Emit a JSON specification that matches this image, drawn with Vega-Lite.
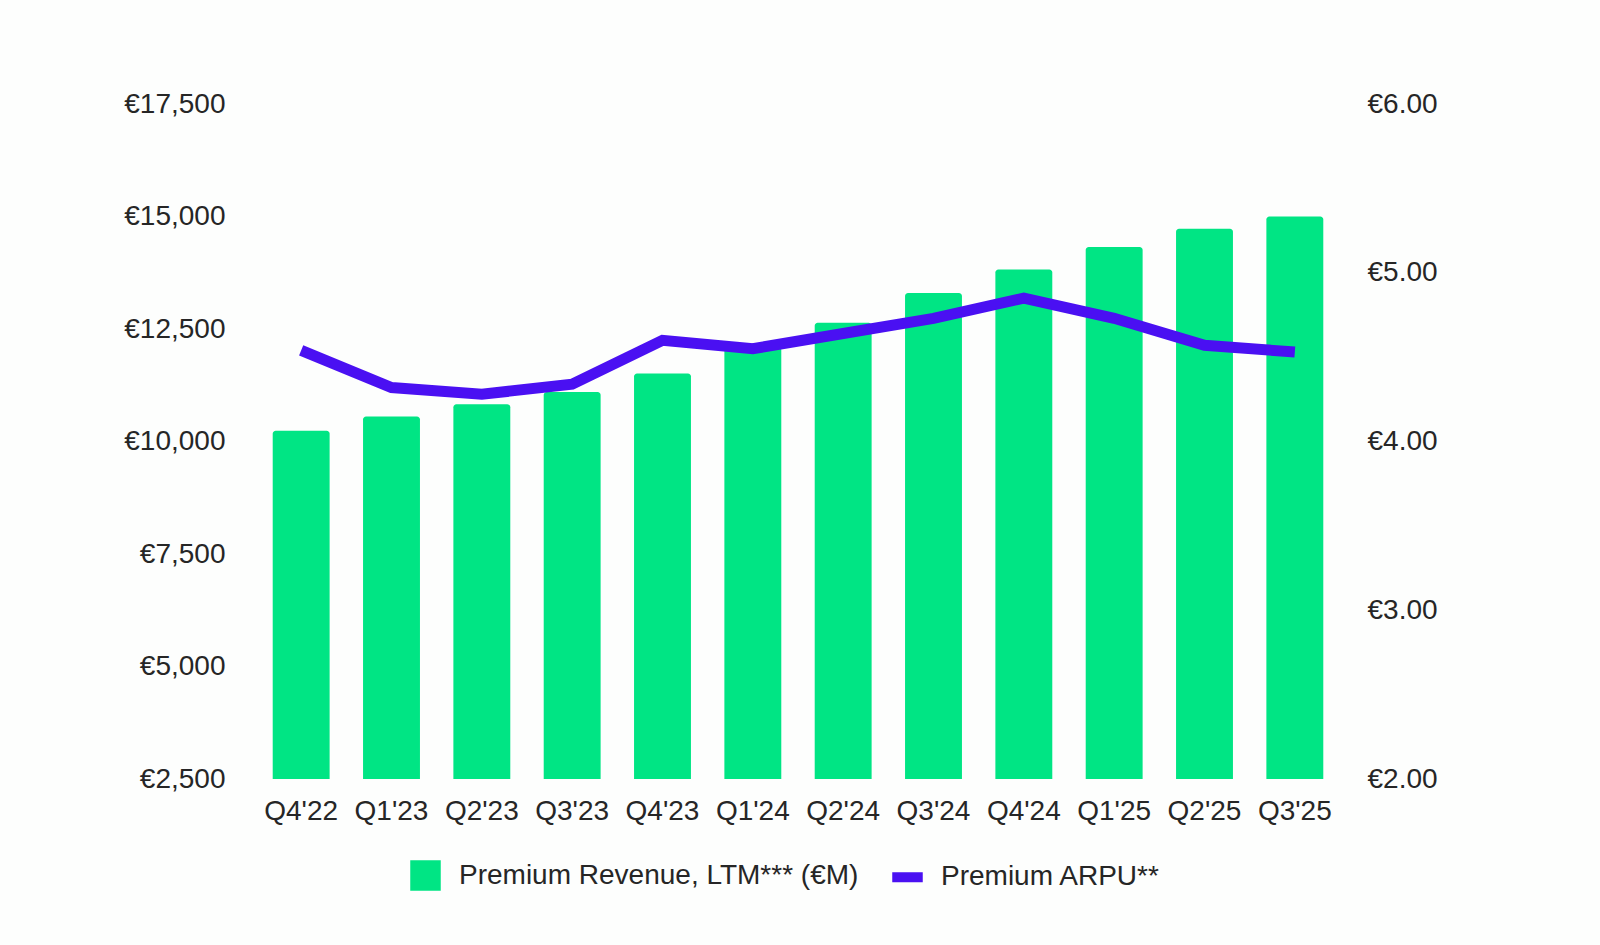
{
  "$schema": "https://vega.github.io/schema/vega-lite/v6.json",
  "width": 1084,
  "height": 675,
  "autosize": "none",
  "padding": {"left": 256, "top": 104, "right": 260, "bottom": 166},
  "background": "#fdfefd",
  "config": {
    "font": "Liberation Sans",
    "view": {"stroke": null},
    "axis": {
      "grid": false,
      "domain": false,
      "ticks": false,
      "tickSize": 0,
      "title": null,
      "labelFont": "Liberation Sans",
      "labelFontSize": 28,
      "labelColor": "#262626"
    },
    "legend": {
      "labelFont": "Liberation Sans",
      "labelFontSize": 28,
      "labelColor": "#262626",
      "labelLimit": 0
    }
  },
  "data": {
    "values": [
      {"quarter": "Q4'22", "revenue": 10240, "arpu": 4.54},
      {"quarter": "Q1'23", "revenue": 10555, "arpu": 4.32},
      {"quarter": "Q2'23", "revenue": 10830, "arpu": 4.28},
      {"quarter": "Q3'23", "revenue": 11100, "arpu": 4.34},
      {"quarter": "Q4'23", "revenue": 11510, "arpu": 4.60},
      {"quarter": "Q1'24", "revenue": 12100, "arpu": 4.55},
      {"quarter": "Q2'24", "revenue": 12640, "arpu": 4.64},
      {"quarter": "Q3'24", "revenue": 13300, "arpu": 4.73},
      {"quarter": "Q4'24", "revenue": 13820, "arpu": 4.85},
      {"quarter": "Q1'25", "revenue": 14320, "arpu": 4.73},
      {"quarter": "Q2'25", "revenue": 14730, "arpu": 4.57},
      {"quarter": "Q3'25", "revenue": 15000, "arpu": 4.53}
    ]
  },
  "encoding": {
    "x": {
      "field": "quarter",
      "type": "ordinal",
      "sort": null,
      "scale": {"paddingInner": 0.37, "paddingOuter": 0.185},
      "axis": {"labelAngle": 0, "labelPadding": 18}
    }
  },
  "layer": [
    {
      "mark": {"type": "bar", "cornerRadiusTopLeft": 3, "cornerRadiusTopRight": 3},
      "encoding": {
        "y": {
          "field": "revenue",
          "type": "quantitative",
          "scale": {"domain": [2500, 17500], "zero": false, "nice": false},
          "axis": {
            "orient": "left",
            "values": [2500, 5000, 7500, 10000, 12500, 15000, 17500],
            "labelExpr": "'€' + format(datum.value, ',')",
            "labelPadding": 31
          }
        },
        "y2": {"datum": 2500},
        "color": {
          "datum": "Premium Revenue, LTM*** (€M)",
          "scale": {
            "domain": ["Premium Revenue, LTM*** (€M)", "Premium ARPU**"],
            "range": ["#00e584", "#4a10f2"]
          },
          "legend": {
            "title": null,
            "orient": "none",
            "legendX": 154,
            "legendY": 756,
            "direction": "horizontal",
            "symbolSize": 841,
            "labelOffset": 18,
            "columnPadding": 31,
            "encode": {
              "symbols": {
                "update": {
                  "shape": {"signal": "datum.value === 'Premium ARPU**' ? 'M-1,-0.29H1V0.29H-1Z' : 'square'"},
                  "fill": {"signal": "datum.value === 'Premium ARPU**' ? '#4a10f2' : '#00e584'"},
                  "stroke": {"value": "transparent"},
                  "opacity": {"value": 1}
                }
              }
            }
          }
        }
      }
    },
    {
      "mark": {"type": "line", "strokeWidth": 11},
      "encoding": {
        "y": {
          "field": "arpu",
          "type": "quantitative",
          "scale": {"domain": [2, 6], "zero": false, "nice": false},
          "axis": {
            "orient": "right",
            "values": [2, 3, 4, 5, 6],
            "labelExpr": "'€' + format(datum.value, '.2f')",
            "labelPadding": 27
          }
        },
        "color": {"datum": "Premium ARPU**"}
      }
    }
  ],
  "resolve": {"scale": {"y": "independent"}}
}
